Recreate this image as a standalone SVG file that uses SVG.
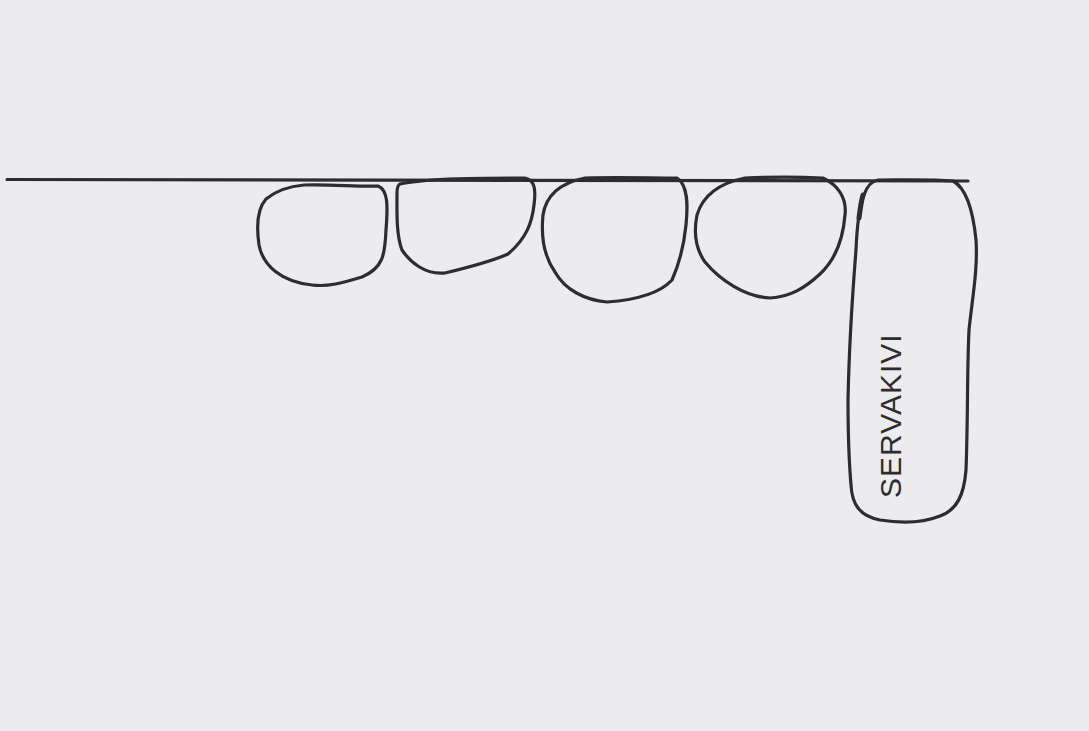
<svg xmlns="http://www.w3.org/2000/svg" width="1089" height="731" viewBox="0 0 1089 731">
<style>
.ink{fill:none;stroke:#2d2d2f;stroke-width:3.2;stroke-linecap:round;stroke-linejoin:round}
.lbl{font-family:"Liberation Sans",Arial,sans-serif;font-size:30px;fill:#2d2d2f;letter-spacing:1px}
</style>
<rect x="0" y="0" width="1089" height="731" fill="#ececee"/>
<g id="baseline">
<path class="ink" d="M7,179.5 L968,181"/>
</g>
<g id="stone1">
<path class="ink" d="M304,185 C330,184 360,187 378,186 C388,190 388,205 386,230 C385,255 383,268 362,277 C342,283 328,287 312,285 C282,282 263,266 259,245 C256,224 258,208 266,199 C277,190 292,186 304,185 Z"/>
</g>
<g id="stone2">
<path class="ink" d="M400,184 C430,178 480,178 525,178 C535,180 536,190 534,205 C532,222 527,238 508,254 C490,262 470,267 445,273 C425,275 410,262 402,250 C396,235 397,210 397,193 C397,188 398,185 400,184 Z"/>
</g>
<g id="stone3">
<path class="ink" d="M585,178 C615,177 650,178 677,178 C688,185 688,205 686,225 C684,245 680,262 672,280 C660,293 635,300 607,302 C585,300 565,290 555,272 C543,255 541,235 543,215 C546,195 560,183 585,178 Z"/>
</g>
<g id="stone4">
<path class="ink" d="M745,178 C770,177 800,177 823,178 C838,185 847,198 845,215 C843,240 835,260 820,274 C805,288 790,297 770,298 C745,297 720,280 705,262 C695,248 694,230 697,215 C703,195 720,183 745,178 Z"/>
</g>
<g id="servakivi">
<path class="ink" d="M878,180 C900,180 930,179 953,181 C966,188 973,210 976,240 C978,270 972,300 969,330 C967,370 968,420 966,470 C964,495 957,510 940,516 C925,522 905,524 880,520 C860,516 852,505 851,485 C848,450 848,420 848,400 C849,350 852,300 856,250 C857,225 860,205 864,195 C867,186 872,181 878,180 Z"/>
<path d="M863,195 C861,202 860,210 859,218" fill="none" stroke="#2d2d2f" stroke-width="5" stroke-linecap="round"/>
<text class="lbl" transform="translate(901,498) rotate(-90)">SERVAKIVI</text>
</g>
</svg>
